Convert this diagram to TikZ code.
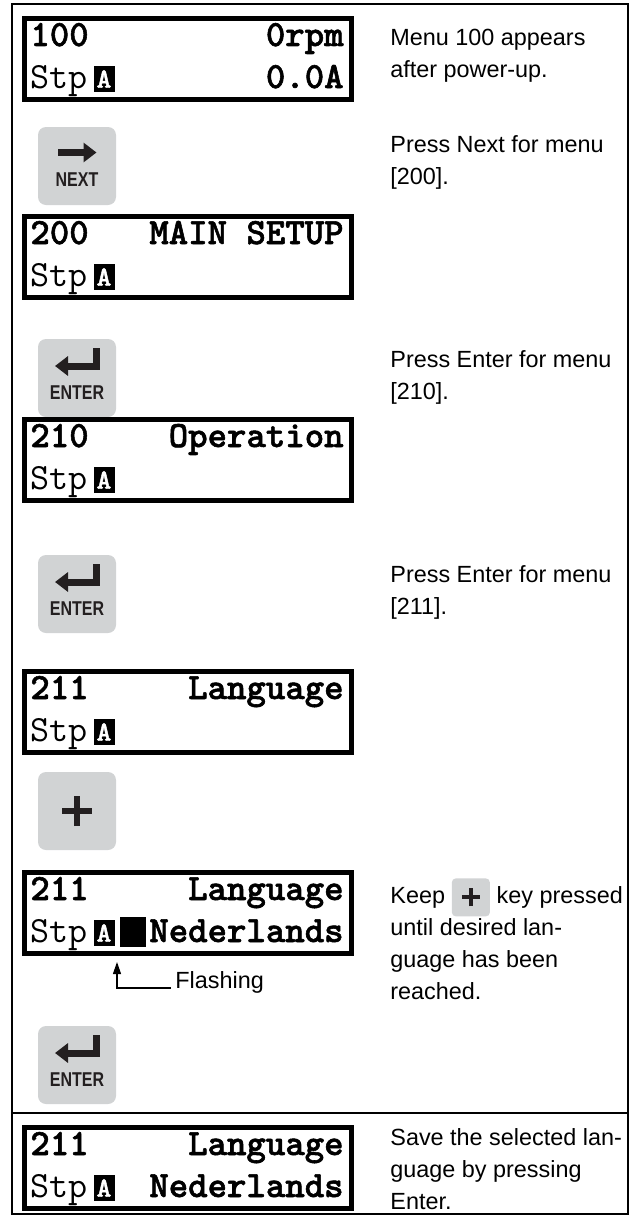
\documentclass[tikz,border=0pt]{standalone}
\usepackage{fontspec}
\setmainfont{Liberation Sans}
\newfontfamily\keyfont[FakeStretch=0.8]{Liberation Sans}
\newfontfamily\lcdboldfont[FakeBold=1.5]{lmmonolt10-bold.otf}
\usetikzlibrary{arrows.meta,positioning}
\definecolor{keygray}{HTML}{D1D3D4}
\definecolor{keyink}{HTML}{231F20}
\newcommand{\notelines}[1]{\begin{tabular}[t]{@{}l@{}}#1\end{tabular}}
\tikzset{
    frame/.style={line width=1pt},
    lcd/.style={draw, line width=2.5pt, minimum width=163.5pt,
        minimum height=40.5pt, inner sep=0pt},
    lcdtext/.style={inner sep=0pt,
        font=\lcdboldfont\fontsize{18.5pt}{18.5pt}\selectfont},
    lcdplain/.style={lcdtext,
        font=\ttfamily\mdseries\fontsize{18.5pt}{18.5pt}\selectfont},
    badge/.style={fill=black, text=white, inner sep=0pt,
        minimum width=10.5pt, minimum height=13pt,
        font=\lcdboldfont\fontsize{14pt}{14pt}\selectfont},
    cursor/.style={fill=black, inner sep=0pt,
        minimum width=13pt, minimum height=15pt},
    note/.style={anchor=base west, inner sep=0pt,
        font=\fontsize{11.7pt}{16pt}\selectfont},
    key/.style={fill=keygray, rounded corners=4pt, minimum size=39pt,
        inner sep=0pt},
    smallkey/.style={key, rounded corners=2pt, minimum size=19pt},
    keylabel/.style={text=keyink, inner sep=0pt,
        font=\keyfont\bfseries\fontsize{10pt}{10pt}\selectfont},
    keyarrow/.style={keyink, line width=3.5pt,
        -{Triangle[length=6.5pt,width=9.5pt]}},
    plussign/.style={keyink, line width=3pt},
    pointer/.style={line width=0.6pt,
        -{Triangle[length=6pt,width=4pt]}}
}
\begin{document}
\begin{tikzpicture}[x=0.5pt,y=-0.5pt]
    \useasboundingbox (0,0) rectangle (632,1215);
    % outer frame
    \draw[frame] (12,4) rectangle (628,1214);
    \draw[frame] (12,1113) -- (628,1113);

    % menu 100
    \node[lcd] (lcd1) at (188,59) {};
    \node[lcdtext, anchor=base west] (lcd1a) at (30,46) {100};
    \node[lcdtext, anchor=base east] (lcd1b) at (344,46) {0rpm};
    \node[lcdplain, anchor=base west] (lcd1c) at (30,88) {Stp};
    \node[badge] (badge1) at (104,79) {A};
    \node[lcdtext, anchor=base east] (lcd1d) at (344,88) {0.0A};
    \node[note] (note1) at (390,46) {\notelines{Menu 100 appears\\after power-up.}};

    % next key
    \node[key] (key1) at (77,166) {};
    \draw[keyarrow] ([xshift=-9.5pt,yshift=6.75pt]key1.center)
        -- ([xshift=9.75pt,yshift=6.75pt]key1.center);
    \node[keylabel] (key1txt) at ([yshift=-7pt]key1.center) {NEXT};
    \node[note] (note2) at (390,152) {\notelines{Press Next for menu\\{}[200].}};

    % menu 200
    \node[lcd] (lcd2) at (188,257) {};
    \node[lcdtext, anchor=base west] (lcd2a) at (30,244) {200};
    \node[lcdtext, anchor=base east] (lcd2b) at (344,244) {MAIN SETUP};
    \node[lcdplain, anchor=base west] (lcd2c) at (30,286) {Stp};
    \node[badge] (badge2) at (104,277) {A};

    % enter key
    \node[key] (key2) at (77,378) {};
    \draw[keyarrow] ([xshift=9.5pt,yshift=15pt]key2.center)
        |- ([xshift=-11pt,yshift=6pt]key2.center);
    \node[keylabel] (key2txt) at ([yshift=-7.5pt]key2.center) {ENTER};
    \node[note] (note3) at (390,367) {\notelines{Press Enter for menu\\{}[210].}};

    % menu 210
    \node[lcd] (lcd3) at (188,460) {};
    \node[lcdtext, anchor=base west] (lcd3a) at (30,447) {210};
    \node[lcdtext, anchor=base east] (lcd3b) at (344,447) {Operation};
    \node[lcdplain, anchor=base west] (lcd3c) at (30,489) {Stp};
    \node[badge] (badge3) at (104,480) {A};

    % enter key
    \node[key] (key3) at (77,594) {};
    \draw[keyarrow] ([xshift=9.5pt,yshift=15pt]key3.center)
        |- ([xshift=-11pt,yshift=6pt]key3.center);
    \node[keylabel] (key3txt) at ([yshift=-7.5pt]key3.center) {ENTER};
    \node[note] (note4) at (390,582) {\notelines{Press Enter for menu\\{}[211].}};

    % menu 211
    \node[lcd] (lcd4) at (188,712) {};
    \node[lcdtext, anchor=base west] (lcd4a) at (30,699) {211};
    \node[lcdtext, anchor=base east] (lcd4b) at (344,699) {Language};
    \node[lcdplain, anchor=base west] (lcd4c) at (30,741) {Stp};
    \node[badge] (badge4) at (104,732) {A};

    % plus key
    \node[key] (key4) at (77,811) {};
    \draw[plussign] ([xshift=-7.5pt]key4.center) -- ([xshift=7.5pt]key4.center);
    \draw[plussign] ([yshift=-7.5pt]key4.center) -- ([yshift=7.5pt]key4.center);

    % menu 211, flashing choice
    \node[lcd] (lcd5) at (188,913) {};
    \node[lcdtext, anchor=base west] (lcd5a) at (30,900) {211};
    \node[lcdtext, anchor=base east] (lcd5b) at (344,900) {Language};
    \node[lcdplain, anchor=base west] (lcd5c) at (30,942) {Stp};
    \node[badge] (badge5) at (104,933) {A};
    \node[cursor] (cursor5) at (133,932) {};
    \node[lcdtext, anchor=base east] (lcd5d) at (344,942) {Nederlands};
    \node[note] (flash) at (175,988) {Flashing};
    \coordinate (flashtip) at (117,962);
    \draw[pointer] ([xshift=-2pt]flash.base west) -| (flashtip);
    \node[note] (note5a) at (390,903) {Keep};
    \node[smallkey, right=3pt of note5a] (key5s) {};
    \draw[plussign, line width=2pt] ([xshift=-4.5pt]key5s.center)
        -- ([xshift=4.5pt]key5s.center);
    \draw[plussign, line width=2pt] ([yshift=-4.5pt]key5s.center)
        -- ([yshift=4.5pt]key5s.center);
    \node[inner sep=0pt, font=\fontsize{11.7pt}{16pt}\selectfont,
        right=3pt of key5s] (note5b) {key pressed};
    \node[note] (note5c) at (390,935) {\notelines{until desired lan-\\guage has been\\reached.}};

    % enter key
    \node[key] (key5) at (77,1065) {};
    \draw[keyarrow] ([xshift=9.5pt,yshift=15pt]key5.center)
        |- ([xshift=-11pt,yshift=6pt]key5.center);
    \node[keylabel] (key5txt) at ([yshift=-7.5pt]key5.center) {ENTER};

    % menu 211, saved
    \node[lcd] (lcd6) at (188,1168) {};
    \node[lcdtext, anchor=base west] (lcd6a) at (30,1155) {211};
    \node[lcdtext, anchor=base east] (lcd6b) at (344,1155) {Language};
    \node[lcdplain, anchor=base west] (lcd6c) at (30,1197) {Stp};
    \node[badge] (badge6) at (104,1188) {A};
    \node[lcdtext, anchor=base east] (lcd6d) at (344,1197) {Nederlands};
    \node[note] (note6) at (390,1145) {\notelines{Save the selected lan-\\guage by pressing\\Enter.}};
\end{tikzpicture}
\end{document}
